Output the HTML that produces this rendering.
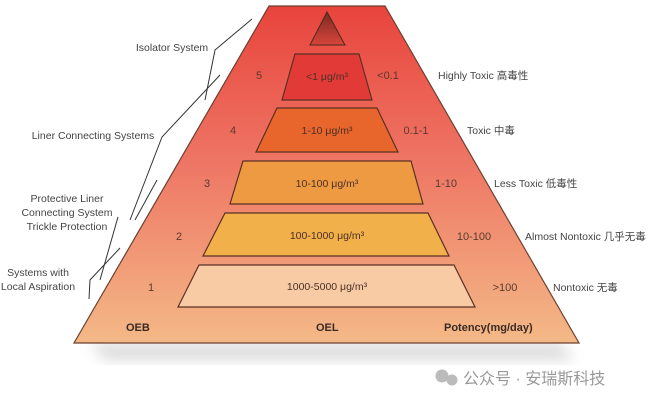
<!DOCTYPE html>
<html><head><meta charset="utf-8"><style>
html,body{margin:0;padding:0;background:#fff;}
svg{display:block;}
text{font-family:"Liberation Sans","Noto Sans CJK SC",sans-serif;}
</style></head><body>
<svg width="650" height="404" viewBox="0 0 650 404" xmlns="http://www.w3.org/2000/svg">
<defs>
<linearGradient id="bg" x1="0" y1="0" x2="0" y2="1">
<stop offset="0" stop-color="#e8443c"/>
<stop offset="0.45" stop-color="#ee7463"/>
<stop offset="1" stop-color="#f4b987"/>
</linearGradient>
<linearGradient id="tri" x1="0" y1="0" x2="0" y2="1">
<stop offset="0" stop-color="#7a2a22"/>
<stop offset="1" stop-color="#d8443a"/>
</linearGradient>
<filter id="sh" x="-10%" y="-10%" width="120%" height="140%"><feGaussianBlur stdDeviation="7"/></filter>
</defs>
<polygon points="90,343 560,343 575,360 105,360" fill="#999" opacity="0.35" filter="url(#sh)"/>
<polygon points="269,6 385,6 579,343 74,343" fill="url(#bg)" stroke="#6b4030" stroke-width="1.2"/>
<polygon points="327,12 310,45 345,45" fill="url(#tri)" stroke="#4a2a20" stroke-width="1"/>
<polygon points="295,54 359,54 372,100 282,100" fill="#e23b37" stroke="#5a3024" stroke-width="1.2"/>
<polygon points="277,108 377,108 398,152 256,152" fill="#e8652b" stroke="#5a3024" stroke-width="1.2"/>
<polygon points="243,161 411,161 423,204 230,204" fill="#ee9a42" stroke="#5a3024" stroke-width="1.2"/>
<polygon points="225,213 428,213 449,256 203,256" fill="#f2b04b" stroke="#5a3024" stroke-width="1.2"/>
<polygon points="199,265 454,265 475,307 178,307" fill="#f8cba5" stroke="#5a3024" stroke-width="1.2"/>
<g fill="#4a3028" font-size="10.5" text-anchor="middle">
<text x="327" y="80">&lt;1 μg/m³</text>
<text x="327" y="134">1-10 μg/m³</text>
<text x="327" y="187">10-100 μg/m³</text>
<text x="327" y="239">100-1000 μg/m³</text>
<text x="327" y="290">1000-5000 μg/m³</text>
</g>
<g fill="#5a3a30" font-size="11" text-anchor="middle">
<text x="259" y="79">5</text><text x="233" y="134">4</text><text x="207" y="187">3</text><text x="179" y="240">2</text><text x="151" y="291">1</text>
<text x="388" y="79">&lt;0.1</text><text x="416" y="134">0.1-1</text><text x="446" y="187">1-10</text><text x="474" y="240">10-100</text><text x="505" y="291">&gt;100</text>
</g>
<g fill="#3a2a26" font-size="11" font-weight="bold">
<text x="126" y="331">OEB</text><text x="316" y="331">OEL</text><text x="444" y="331">Potency(mg/day)</text>
</g>
<g fill="#444" font-size="10.5">
<text x="438" y="79">Highly Toxic 高毒性</text>
<text x="467" y="134">Toxic 中毒</text>
<text x="494" y="187">Less Toxic 低毒性</text>
<text x="525" y="240">Almost Nontoxic 几乎无毒</text>
<text x="553" y="291">Nontoxic 无毒</text>
</g>
<g fill="#444" font-size="10.5" text-anchor="middle">
<text x="172" y="51">Isolator System</text>
<text x="93" y="139">Liner Connecting Systems</text>
<text x="67" y="202">Protective Liner</text>
<text x="67" y="216">Connecting System</text>
<text x="67" y="230">Trickle Protection</text>
<text x="38" y="276">Systems with</text>
<text x="38" y="290">Local Aspiration</text>
</g>
<g stroke="#333" stroke-width="1" fill="none">
<polyline points="252,19 215,50 205,100"/>
<polyline points="220,75 162,137 130,220"/>
<line x1="157" y1="180" x2="135" y2="220"/>
<polyline points="118,217 100,280"/>
<polyline points="120,248 90,280 89,299"/>
</g>
<g>
<circle cx="442" cy="376" r="6.5" fill="#bbb"/><circle cx="452" cy="380" r="5.5" fill="#bbb"/>
<text x="463" y="384" fill="#999" font-size="16">公众号 · 安瑞斯科技</text>
</g>
</svg>
</body></html>
